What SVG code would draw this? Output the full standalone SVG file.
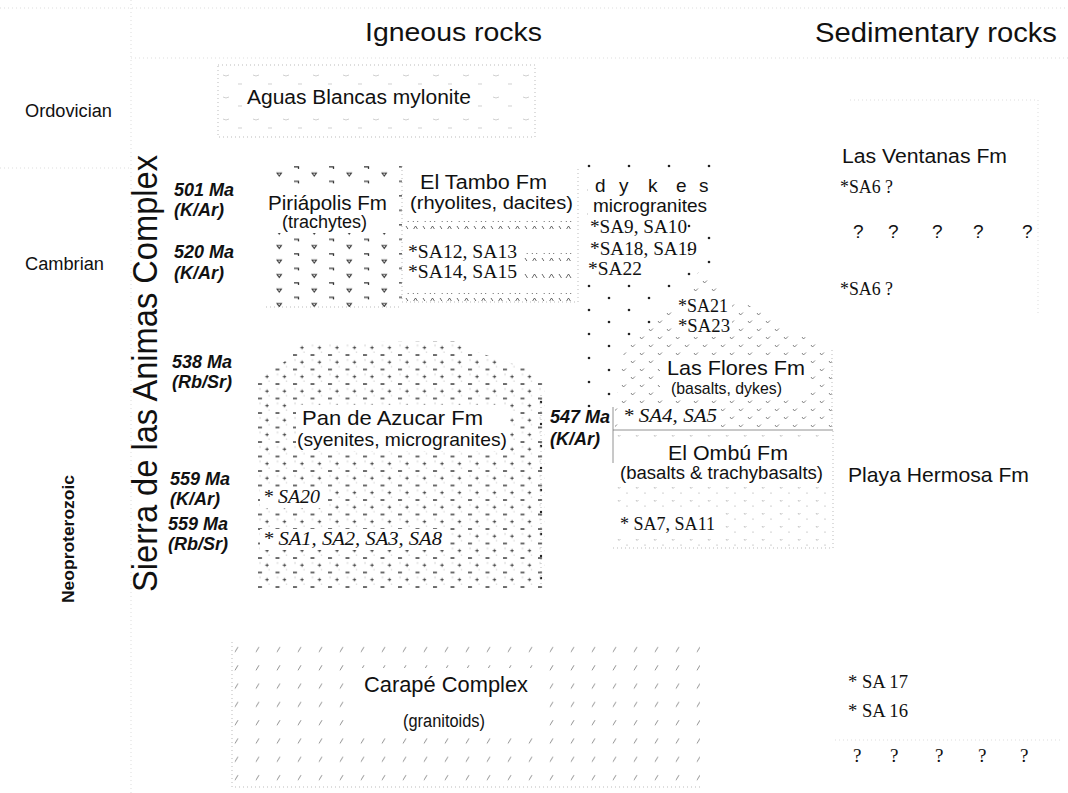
<svg xmlns="http://www.w3.org/2000/svg" width="1068" height="793" viewBox="0 0 1068 793">
<style>
.sans{font-family:"Liberation Sans",Arial,sans-serif;fill:#111}
.serif{font-family:"Liberation Serif","Times New Roman",serif;fill:#111}
.age{font-family:"Liberation Sans",Arial,sans-serif;font-weight:bold;font-style:italic;font-size:18px;fill:#111}
.it{font-style:italic}
.bd{fill:none;stroke:#aaa;stroke-width:0.8;stroke-dasharray:1 3}
.faint{fill:none;stroke:#d4d4d4;stroke-width:0.8;stroke-dasharray:1 3}
.clr{fill:#fff}
</style>
<defs>
<pattern id="p-agu" width="30" height="22" patternUnits="userSpaceOnUse" x="218" y="65">
<path d="M5,10 q3,2 6,0 M20,19 h4" fill="none" stroke="#bbb" stroke-width="0.7"/>
</pattern>
<pattern id="p-pir" width="35" height="14.5" patternUnits="userSpaceOnUse" x="275" y="166">
<path d="M2,7 h4.5 l-2.25,3 z" fill="none" stroke="#333" stroke-width="1"/>
<path d="M19,0.8 h4.5 v2" fill="none" stroke="#333" stroke-width="1.3"/>
</pattern>
<pattern id="p-tam" width="17" height="8" patternUnits="userSpaceOnUse" x="405" y="0">
<path d="M1,2 l2.5,4 M8,6 l2.5,-4 l2.5,4" fill="none" stroke="#444" stroke-width="0.8"/>
</pattern>
<pattern id="p-pan" width="17.5" height="14.5" patternUnits="userSpaceOnUse" x="258" y="354">
<path d="M0,1 h4" stroke="#222" stroke-width="1.3"/>
<path d="M7.3,8.2 h3.4 M9,6.5 v3.4" stroke="#333" stroke-width="0.9"/>
<path d="M2,5 v2 M11,12 v1.5" stroke="#bbb" stroke-width="0.7"/>
</pattern>
<pattern id="p-dyk" width="40" height="24" patternUnits="userSpaceOnUse" x="585" y="162">
<circle cx="4" cy="4" r="1.3" fill="#222"/>
<circle cx="24" cy="16" r="1.3" fill="#222"/>
</pattern>
<pattern id="p-flo" width="18" height="16" patternUnits="userSpaceOnUse" x="620" y="270">
<path d="M2,3 l1.5,2 l2.5,-2.5 M11,11 l1.5,2 l2.5,-2.5" fill="none" stroke="#666" stroke-width="0.8"/>
</pattern>
<pattern id="p-omb" width="18" height="13" patternUnits="userSpaceOnUse" x="615" y="432">
<path d="M3,3 l1,1.5 l1.5,-1.5" fill="none" stroke="#aaa" stroke-width="0.7"/>
<circle cx="12" cy="9" r="0.6" fill="#999"/>
</pattern>
<pattern id="p-car" width="21" height="18.3" patternUnits="userSpaceOnUse" x="232" y="642">
<path d="M3,10 l3,-5" stroke="#888" stroke-width="0.9"/>
</pattern>
</defs>
<rect width="1068" height="793" fill="#fff"/>

<g id="frame">
<line class="faint" x1="0" y1="8" x2="1068" y2="8"/>
<line class="faint" x1="131" y1="0" x2="131" y2="793"/>
<line class="faint" x1="131" y1="58" x2="1068" y2="58"/>
<line class="faint" x1="0" y1="168" x2="131" y2="168"/>
<path class="faint" d="M850,100 H1038 V315"/>
<path class="faint" d="M835,740 H1060"/>
</g>

<g id="headers">
<text class="sans" x="365" y="41" font-size="26" textLength="177" lengthAdjust="spacingAndGlyphs">Igneous rocks</text>
<text class="sans" x="815" y="42" font-size="27" textLength="242" lengthAdjust="spacingAndGlyphs">Sedimentary rocks</text>
</g>

<g id="periods">
<text class="sans" x="25" y="117" font-size="18" textLength="87" lengthAdjust="spacingAndGlyphs">Ordovician</text>
<text class="sans" x="25" y="270" font-size="18" textLength="79" lengthAdjust="spacingAndGlyphs">Cambrian</text>
<text class="sans" transform="translate(74,603) rotate(-90)" font-size="16" font-weight="bold" textLength="128" lengthAdjust="spacingAndGlyphs">Neoproterozoic</text>
<text class="sans" transform="translate(157,592) rotate(-90)" font-size="35" textLength="437" lengthAdjust="spacingAndGlyphs">Sierra de las Animas Complex</text>
</g>

<g id="ages">
<text class="age" x="174" y="196">501 Ma</text>
<text class="age" x="174" y="216">(K/Ar)</text>
<text class="age" x="174" y="258">520 Ma</text>
<text class="age" x="174" y="279">(K/Ar)</text>
<text class="age" x="172" y="368">538 Ma</text>
<text class="age" x="172" y="388">(Rb/Sr)</text>
<text class="age" x="170" y="485">559 Ma</text>
<text class="age" x="170" y="505">(K/Ar)</text>
<text class="age" x="168" y="530">559 Ma</text>
<text class="age" x="168" y="550">(Rb/Sr)</text>
<text class="age" x="550" y="423">547 Ma</text>
<text class="age" x="550" y="445">(K/Ar)</text>
</g>

<g id="aguas-blancas">
<rect x="218" y="65" width="317" height="72" fill="url(#p-agu)"/>
<rect class="bd" x="218" y="65" width="317" height="72"/>
<rect class="clr" x="243" y="86" width="234" height="24"/>
<text class="sans" x="247" y="104" font-size="20" textLength="224" lengthAdjust="spacingAndGlyphs">Aguas Blancas mylonite</text>
</g>

<g id="piriapolis">
<rect x="266" y="166" width="136" height="141" fill="url(#p-pir)"/>
<path class="bd" d="M266,307 H402"/>
<rect class="clr" x="266" y="186" width="132" height="47"/>
<text class="sans" x="268" y="210" font-size="21" textLength="119" lengthAdjust="spacingAndGlyphs">Piriápolis Fm</text>
<text class="sans" x="282" y="228" font-size="18" textLength="85" lengthAdjust="spacingAndGlyphs">(trachytes)</text>
</g>

<g id="el-tambo">
<path class="bd" d="M402,166 V302 H578 V166"/>
<rect x="405" y="221" width="170" height="8" fill="url(#p-tam)"/>
<rect x="522" y="253" width="53" height="8" fill="url(#p-tam)"/>
<rect x="522" y="270" width="53" height="8" fill="url(#p-tam)"/>
<rect x="405" y="293" width="170" height="8" fill="url(#p-tam)"/>
<text class="sans" x="420" y="189" font-size="20" textLength="127" lengthAdjust="spacingAndGlyphs">El Tambo Fm</text>
<text class="sans" x="410" y="209" font-size="18" textLength="163" lengthAdjust="spacingAndGlyphs">(rhyolites, dacites)</text>
<text class="serif" x="408" y="258" font-size="19" textLength="109" lengthAdjust="spacingAndGlyphs">*SA12, SA13</text>
<text class="serif" x="408" y="278" font-size="19" textLength="109" lengthAdjust="spacingAndGlyphs">*SA14, SA15</text>
</g>

<g id="dykes">
<polygon points="583,158 722,158 722,268 690,290 660,315 625,345 615,408 583,408" fill="url(#p-dyk)"/>
<rect class="clr" x="588" y="176" width="124" height="42"/>
<rect class="clr" x="586" y="218" width="98" height="62"/>
<line class="bd" x1="541" y1="395" x2="541" y2="585"/>
<g fill="#222"><circle cx="541" cy="402" r="1.2"/><circle cx="541" cy="424" r="1.2"/><circle cx="541" cy="446" r="1.2"/><circle cx="541" cy="468" r="1.2"/><circle cx="541" cy="490" r="1.2"/><circle cx="541" cy="512" r="1.2"/><circle cx="541" cy="534" r="1.2"/><circle cx="541" cy="556" r="1.2"/><circle cx="541" cy="578" r="1.2"/></g>
<text class="sans" x="595 619 648 676 699" y="192" font-size="19">dykes</text>
<text class="sans" x="593" y="212" font-size="19" textLength="114" lengthAdjust="spacingAndGlyphs">microgranites</text>
<text class="serif" x="590" y="233" font-size="19" textLength="97" lengthAdjust="spacingAndGlyphs">*SA9, SA10</text>
<text class="serif" x="590" y="255" font-size="19" textLength="107" lengthAdjust="spacingAndGlyphs">*SA18, SA19</text>
<text class="serif" x="588" y="275" font-size="19" textLength="54" lengthAdjust="spacingAndGlyphs">*SA22</text>
</g>

<g id="las-flores">
<polygon points="700,268 740,300 790,330 832,350 832,430 615,430 615,408 625,345 660,315 690,290" fill="url(#p-flo)"/>
<path class="bd" d="M832,350 V430"/>
<path d="M613,407 V463 M613,430 H833" fill="none" stroke="#777" stroke-width="0.8"/>
<rect class="clr" x="674" y="296" width="58" height="41"/>
<rect class="clr" x="660" y="356" width="150" height="43"/>
<rect class="clr" x="619" y="407" width="102" height="20"/>
<text class="serif" x="678" y="312" font-size="19" textLength="50" lengthAdjust="spacingAndGlyphs">*SA21</text>
<text class="serif" x="678" y="332" font-size="19" textLength="52" lengthAdjust="spacingAndGlyphs">*SA23</text>
<text class="sans" x="667" y="375" font-size="21" textLength="138" lengthAdjust="spacingAndGlyphs">Las Flores Fm</text>
<text class="sans" x="671" y="394" font-size="17" textLength="111" lengthAdjust="spacingAndGlyphs">(basalts, dykes)</text>
<text class="serif it" x="623" y="422" font-size="19" textLength="94" lengthAdjust="spacingAndGlyphs">* SA4, SA5</text>
</g>

<g id="el-ombu">
<rect x="613" y="431" width="220" height="117" fill="url(#p-omb)"/>
<path class="bd" d="M833,431 V548 H613"/>
<rect class="clr" x="617" y="440" width="210" height="45"/>
<rect class="clr" x="617" y="513" width="103" height="22"/>
<text class="sans" x="668" y="460" font-size="21" textLength="120" lengthAdjust="spacingAndGlyphs">El Ombú Fm</text>
<text class="sans" x="620" y="479" font-size="18" textLength="203" lengthAdjust="spacingAndGlyphs">(basalts &amp; trachybasalts)</text>
<text class="serif" x="620" y="530" font-size="19" textLength="95" lengthAdjust="spacingAndGlyphs">* SA7, SA11</text>
</g>

<g id="pan-de-azucar">
<polygon points="255,588 255,385 268,372 290,358 300,343 455,341 480,353 525,368 545,385 545,588" fill="url(#p-pan)"/>
<rect class="clr" x="296" y="405" width="214" height="46"/>
<rect class="clr" x="260" y="488" width="64" height="20"/>
<rect class="clr" x="260" y="529" width="185" height="21"/>
<text class="sans" x="302" y="425" font-size="21" textLength="181" lengthAdjust="spacingAndGlyphs">Pan de Azucar Fm</text>
<text class="sans" x="297" y="446" font-size="19" textLength="210" lengthAdjust="spacingAndGlyphs">(syenites, microgranites)</text>
<text class="serif it" x="263" y="503" font-size="19" textLength="57" lengthAdjust="spacingAndGlyphs">* SA20</text>
<text class="serif it" x="263" y="545" font-size="19" textLength="179" lengthAdjust="spacingAndGlyphs">* SA1, SA2, SA3, SA8</text>
</g>

<g id="carape">
<rect x="232" y="642" width="468" height="145" fill="url(#p-car)"/>
<path class="bd" d="M232,642 V787 H700"/>
<rect class="clr" x="356" y="668" width="178" height="18"/>
<rect class="clr" x="356" y="686" width="178" height="48"/>
<text class="sans" x="364" y="692" font-size="22" textLength="164" lengthAdjust="spacingAndGlyphs">Carapé Complex</text>
<text class="sans" x="403" y="727" font-size="18" textLength="82" lengthAdjust="spacingAndGlyphs">(granitoids)</text>
</g>

<g id="sedimentary">
<text class="sans" x="842" y="163" font-size="20" textLength="165" lengthAdjust="spacingAndGlyphs">Las Ventanas Fm</text>
<text class="serif" x="840" y="193" font-size="18" textLength="53" lengthAdjust="spacingAndGlyphs">*SA6 ?</text>
<text class="sans" x="853" y="238" font-size="19">?</text>
<text class="sans" x="888" y="238" font-size="19">?</text>
<text class="sans" x="932" y="238" font-size="19">?</text>
<text class="sans" x="973" y="238" font-size="19">?</text>
<text class="sans" x="1022" y="238" font-size="19">?</text>
<text class="serif" x="840" y="295" font-size="18" textLength="53" lengthAdjust="spacingAndGlyphs">*SA6 ?</text>
<text class="sans" x="848" y="482" font-size="21" textLength="181" lengthAdjust="spacingAndGlyphs">Playa Hermosa Fm</text>
<text class="serif" x="848" y="688" font-size="18" textLength="60" lengthAdjust="spacingAndGlyphs">* SA 17</text>
<text class="serif" x="848" y="717" font-size="18" textLength="60" lengthAdjust="spacingAndGlyphs">* SA 16</text>
<text class="serif" x="853" y="762" font-size="19">?</text>
<text class="serif" x="890" y="762" font-size="19">?</text>
<text class="serif" x="935" y="762" font-size="19">?</text>
<text class="serif" x="978" y="762" font-size="19">?</text>
<text class="serif" x="1020" y="762" font-size="19">?</text>
</g>
</svg>
